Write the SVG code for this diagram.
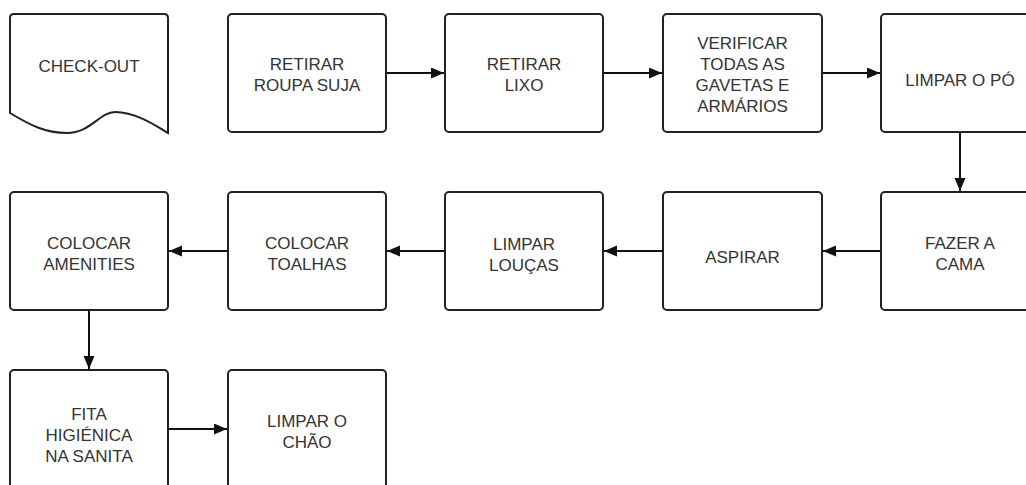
<svg xmlns="http://www.w3.org/2000/svg" width="1026" height="485" viewBox="0 0 1026 485">
<defs>
<marker id="arr" markerUnits="userSpaceOnUse" markerWidth="14" markerHeight="12" refX="13" refY="5.5" orient="auto">
<path d="M0,0 L13,5.5 L0,11 Z" fill="#111"/>
</marker>
<style>
.box{fill:#fff;stroke:#222;stroke-width:2}
.t{font-family:"Liberation Sans",Arial,sans-serif;font-size:17px;fill:#333;text-anchor:middle}
.c{stroke:#111;stroke-width:2;fill:none;marker-end:url(#arr)}
</style>
</defs>
<rect width="1026" height="485" fill="#fff"/>
<g id="n0">
<path class="box" d="M14,14 H164 Q168,14 168,18 V133 C155,125 135,112 115,112 C100,112 90,133 67,133 C45,133 30,125 10,113 V18 Q10,14 14,14 Z"/>
<text class="t" x="89" y="71.5">CHECK-OUT</text>
</g>
<g id="n1">
<rect class="box" x="228" y="14" width="158" height="118" rx="4"/>
<text class="t" x="307" y="70">RETIRAR</text>
<text class="t" x="307" y="91">ROUPA SUJA</text>
</g>
<g id="n2">
<rect class="box" x="445" y="14" width="158" height="118" rx="4"/>
<text class="t" x="524" y="70">RETIRAR</text>
<text class="t" x="524" y="91">LIXO</text>
</g>
<g id="n3">
<rect class="box" x="663" y="14" width="159" height="118" rx="4"/>
<text class="t" x="742.5" y="48.5">VERIFICAR</text>
<text class="t" x="742.5" y="69.5">TODAS AS</text>
<text class="t" x="742.5" y="90.5">GAVETAS E</text>
<text class="t" x="742.5" y="111.5">ARMÁRIOS</text>
</g>
<g id="n4">
<rect class="box" x="881" y="14" width="158" height="118" rx="4"/>
<text class="t" x="960" y="86">LIMPAR O PÓ</text>
</g>
<g id="n5">
<rect class="box" x="881" y="192" width="158" height="118" rx="4"/>
<text class="t" x="960" y="249">FAZER A</text>
<text class="t" x="960" y="270">CAMA</text>
</g>
<g id="n6">
<rect class="box" x="663" y="192" width="159" height="118" rx="4"/>
<text class="t" x="742.5" y="262.5">ASPIRAR</text>
</g>
<g id="n7">
<rect class="box" x="445" y="192" width="158" height="118" rx="4"/>
<text class="t" x="524" y="249.5">LIMPAR</text>
<text class="t" x="524" y="270.5">LOUÇAS</text>
</g>
<g id="n8">
<rect class="box" x="228" y="192" width="158" height="118" rx="4"/>
<text class="t" x="307" y="249">COLOCAR</text>
<text class="t" x="307" y="270">TOALHAS</text>
</g>
<g id="n9">
<rect class="box" x="10" y="192" width="158" height="118" rx="4"/>
<text class="t" x="89" y="249">COLOCAR</text>
<text class="t" x="89" y="270">AMENITIES</text>
</g>
<g id="n10">
<rect class="box" x="10" y="370" width="158" height="118" rx="4"/>
<text class="t" x="89" y="419.5">FITA</text>
<text class="t" x="89" y="440.5">HIGIÉNICA</text>
<text class="t" x="89" y="461.5">NA SANITA</text>
</g>
<g id="n11">
<rect class="box" x="228" y="370" width="158" height="118" rx="4"/>
<text class="t" x="307" y="427">LIMPAR O</text>
<text class="t" x="307" y="448">CHÃO</text>
</g>
<g id="connectors">
<line class="c" x1="387" y1="73" x2="444" y2="73"/>
<line class="c" x1="604" y1="73" x2="662" y2="73"/>
<line class="c" x1="823" y1="73" x2="880" y2="73"/>
<line class="c" x1="960" y1="133" x2="960" y2="191"/>
<line class="c" x1="880" y1="251" x2="823" y2="251"/>
<line class="c" x1="662" y1="251" x2="604" y2="251"/>
<line class="c" x1="444" y1="251" x2="387" y2="251"/>
<line class="c" x1="227" y1="251" x2="169" y2="251"/>
<line class="c" x1="89" y1="311" x2="89" y2="369"/>
<line class="c" x1="169" y1="429" x2="227" y2="429"/>
</g>
</svg>
